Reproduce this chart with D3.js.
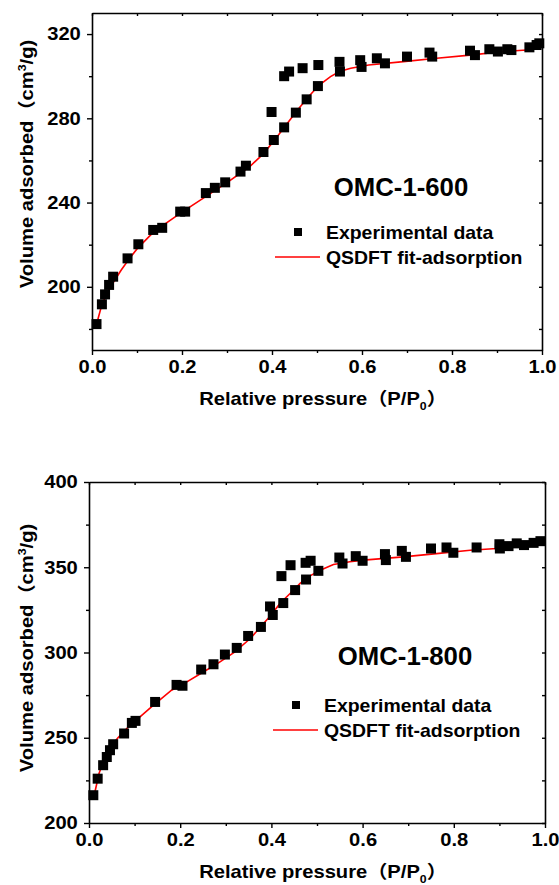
<!DOCTYPE html>
<html>
<head>
<meta charset="utf-8">
<script src="https://cdn.jsdelivr.net/npm/d3@7"></script>
<style>
  body { margin: 0; background: #fff; }
  svg text { font-family: "Liberation Sans", Arial, "Noto Sans CJK SC", sans-serif; font-weight: bold; fill: #000; }
</style>
</head>
<body>
<svg id="chart" width="559" height="885"></svg>
<script>
// relative pressure ticks
const xTicks = [0, 0.2, 0.4, 0.6, 0.8, 1.0];
const xMinor = [0.1, 0.3, 0.5, 0.7, 0.9];

// OMC-1-600 experimental points (adsorption + desorption branch)
const exp600 = [
  [0.010, 182.3], [0.022, 191.7], [0.029, 196.4], [0.038, 200.9], [0.047, 204.8],
  [0.079, 213.5], [0.103, 220.2], [0.136, 227.0], [0.156, 228.0], [0.196, 235.7],
  [0.207, 235.7], [0.253, 244.5], [0.273, 247.0], [0.296, 249.6], [0.330, 254.7],
  [0.342, 257.5], [0.381, 264.0], [0.404, 269.7], [0.427, 275.7], [0.453, 282.7],
  [0.477, 289.0], [0.502, 295.3], [0.551, 302.2], [0.599, 304.4], [0.651, 306.1],
  [0.700, 309.3], [0.756, 309.3], [0.851, 310.0], [0.902, 311.7], [0.932, 312.4],
  [0.994, 315.6],
  [0.399, 283.0], [0.427, 300.0], [0.438, 302.2], [0.468, 303.8], [0.503, 305.3],
  [0.550, 306.8], [0.596, 307.6], [0.633, 308.5], [0.750, 311.2], [0.840, 312.1],
  [0.883, 312.8], [0.923, 312.8], [0.972, 313.7], [0.988, 314.8]
];
// OMC-1-600 QSDFT fit
const fit600 = [
  [0.013, 184.5], [0.020, 190.0], [0.030, 195.5], [0.040, 199.5], [0.050, 203.0],
  [0.065, 208.0], [0.080, 212.5], [0.100, 218.0], [0.130, 224.5], [0.160, 229.5],
  [0.200, 235.5], [0.250, 242.5], [0.300, 249.5], [0.350, 257.0], [0.380, 263.0],
  [0.405, 269.5], [0.430, 276.5], [0.455, 283.5], [0.480, 290.0], [0.505, 295.8],
  [0.530, 299.8], [0.550, 302.2], [0.575, 303.8], [0.615, 305.3], [0.692, 306.9],
  [0.766, 308.5], [0.840, 310.0], [0.914, 311.7], [0.966, 312.4]
];

// OMC-1-800 experimental points
const exp800 = [
  [0.0095, 216.3], [0.019, 226.0], [0.031, 233.9], [0.039, 238.7], [0.046, 242.7],
  [0.053, 246.2], [0.077, 252.5], [0.094, 258.7], [0.102, 259.9], [0.145, 271.0],
  [0.192, 281.0], [0.205, 280.5], [0.246, 290.0], [0.273, 293.1], [0.298, 298.8],
  [0.324, 302.7], [0.349, 309.7], [0.377, 315.0], [0.403, 322.0], [0.426, 329.0],
  [0.452, 336.6], [0.476, 342.8], [0.503, 347.9], [0.556, 352.2], [0.600, 353.8],
  [0.651, 354.2], [0.695, 356.1], [0.799, 358.5], [0.901, 361.0], [0.954, 363.0],
  [0.990, 365.3],
  [0.397, 327.0], [0.422, 344.8], [0.442, 351.2], [0.475, 352.6], [0.486, 353.8],
  [0.549, 355.7], [0.585, 356.5], [0.649, 357.7], [0.686, 359.6], [0.750, 361.0],
  [0.784, 361.6], [0.850, 361.6], [0.900, 363.5], [0.920, 362.4], [0.938, 364.0],
  [0.975, 364.3]
];
// OMC-1-800 QSDFT fit
const fit800 = [
  [0.013, 218.2], [0.022, 229.0], [0.035, 238.7], [0.050, 245.6], [0.064, 250.1],
  [0.086, 256.3], [0.108, 261.3], [0.137, 268.1], [0.181, 277.9], [0.211, 282.2],
  [0.247, 288.0], [0.284, 293.9], [0.320, 300.4], [0.355, 308.5], [0.376, 315.0],
  [0.397, 321.3], [0.419, 328.8], [0.441, 334.6], [0.463, 340.5], [0.481, 344.4],
  [0.507, 348.3], [0.536, 351.6], [0.572, 353.2], [0.602, 354.2], [0.689, 356.1],
  [0.762, 358.0], [0.836, 360.0], [0.894, 361.0], [0.923, 363.0], [0.963, 364.0]
];

const yTicks600 = [200, 240, 280, 320];
const yMinor600 = [180, 220, 260, 300];
const yTicks800 = [200, 250, 300, 350, 400];
const yMinor800 = [225, 275, 325, 375];

const legendLabels = ["Experimental data", "QSDFT fit-adsorption"];

const panels = [
  {
    title: "OMC-1-600", exp: exp600, fit: fit600,
    yDomain: [170, 330], yTicks: yTicks600, yMinor: yMinor600,
    left: 92, right: 542, top: 13, bottom: 350,
    titleAt: [401, 196], legendAt: [298, 232], yLabelY: 164, xLabelY: 405
  },
  {
    title: "OMC-1-800", exp: exp800, fit: fit800,
    yDomain: [200, 400], yTicks: yTicks800, yMinor: yMinor800,
    left: 89, right: 545, top: 482, bottom: 823,
    titleAt: [405, 665], legendAt: [296, 705], yLabelY: 648, xLabelY: 878
  }
];

// the original figure's lettering is a little wider than plain Arial
const stretch = 1.12;

const svg = d3.select("#chart");

panels.forEach(p => {
  const x = d3.scaleLinear().domain([0, 1]).range([p.left, p.right]);
  const y = d3.scaleLinear().domain(p.yDomain).range([p.bottom, p.top]);
  const g = svg.append("g");

  const styleAxis = sel => {
    sel.select(".domain").attr("stroke", "#000").attr("stroke-width", 1.6);
    sel.selectAll(".tick line").attr("stroke", "#000").attr("stroke-width", 1.4);
    sel.selectAll(".tick text").style("font-size", "18px")
      .attr("transform", `scale(${stretch},1)`);
  };

  // left / bottom: outward ticks with labels; top / right: inward ticks
  g.append("g").attr("transform", `translate(0,${p.bottom})`)
    .call(d3.axisBottom(x).tickValues(xTicks).tickSize(5).tickSizeOuter(0).tickPadding(5).tickFormat(d3.format(".1f")))
    .call(styleAxis);
  g.append("g").attr("transform", `translate(0,${p.bottom})`)
    .call(d3.axisBottom(x).tickValues(xMinor).tickSize(3).tickFormat(""))
    .call(styleAxis).select(".domain").remove();

  g.append("g").attr("transform", `translate(${p.left},0)`)
    .call(d3.axisLeft(y).tickValues(p.yTicks).tickSize(5).tickSizeOuter(0).tickPadding(5))
    .call(styleAxis);
  g.append("g").attr("transform", `translate(${p.left},0)`)
    .call(d3.axisLeft(y).tickValues(p.yMinor).tickSize(3).tickFormat(""))
    .call(styleAxis).select(".domain").remove();

  g.append("g").attr("transform", `translate(0,${p.top})`)
    .call(d3.axisTop(x).tickValues(xTicks.concat(xMinor)).tickSize(-3).tickSizeOuter(0).tickFormat(""))
    .call(styleAxis);
  g.append("g").attr("transform", `translate(${p.right},0)`)
    .call(d3.axisRight(y).tickValues(p.yTicks.concat(p.yMinor)).tickSize(-3).tickSizeOuter(0).tickFormat(""))
    .call(styleAxis);

  // fit curve
  g.append("path")
    .datum(p.fit)
    .attr("fill", "none")
    .attr("stroke", "#ff0000")
    .attr("stroke-width", 1.6)
    .attr("d", d3.line().x(d => x(d[0])).y(d => y(d[1])));

  // experimental squares
  const s = 10;
  g.append("g").selectAll("rect")
    .data(p.exp)
    .join("rect")
    .attr("x", d => x(d[0]) - s / 2)
    .attr("y", d => y(d[1]) - s / 2)
    .attr("width", s)
    .attr("height", s)
    .attr("fill", "#000");

  // title
  g.append("text")
    .attr("transform", `translate(${p.titleAt[0]},${p.titleAt[1]}) scale(1.03,1)`)
    .attr("text-anchor", "middle")
    .style("font-size", "25px")
    .text(p.title);

  // legend
  const [lx, ly] = p.legendAt;
  g.append("rect").attr("x", lx - 4).attr("y", ly - 4).attr("width", 8).attr("height", 8).attr("fill", "#000");
  g.append("text").attr("transform", `translate(${lx + 28},${ly + 7}) scale(1.08,1)`)
    .style("font-size", "18px").text(legendLabels[0]);
  g.append("line").attr("x1", lx - 23).attr("x2", lx + 22).attr("y1", ly + 25).attr("y2", ly + 25)
    .attr("stroke", "#ff0000").attr("stroke-width", 1.6);
  g.append("text").attr("transform", `translate(${lx + 28},${ly + 32}) scale(1.08,1)`)
    .style("font-size", "18px").text(legendLabels[1]);

  // axis titles
  const yl = g.append("text")
    .attr("transform", `translate(33,${p.yLabelY}) rotate(-90) scale(${stretch},1)`)
    .attr("text-anchor", "middle")
    .style("font-size", "18px");
  yl.append("tspan").text("Volume adsorbed（cm");
  yl.append("tspan").attr("dy", -7).style("font-size", "11px").text("3");
  yl.append("tspan").attr("dy", 7).text("/g)");

  const xl = g.append("text")
    .attr("transform", `translate(${(p.left + p.right) / 2 + 6},${p.xLabelY}) scale(${stretch},1)`)
    .attr("text-anchor", "middle")
    .style("font-size", "18px");
  xl.append("tspan").text("Relative pressure（P/P");
  xl.append("tspan").attr("dy", 5).style("font-size", "11px").text("0");
  xl.append("tspan").attr("dy", -5).text("）");
});
</script>
</body>
</html>
